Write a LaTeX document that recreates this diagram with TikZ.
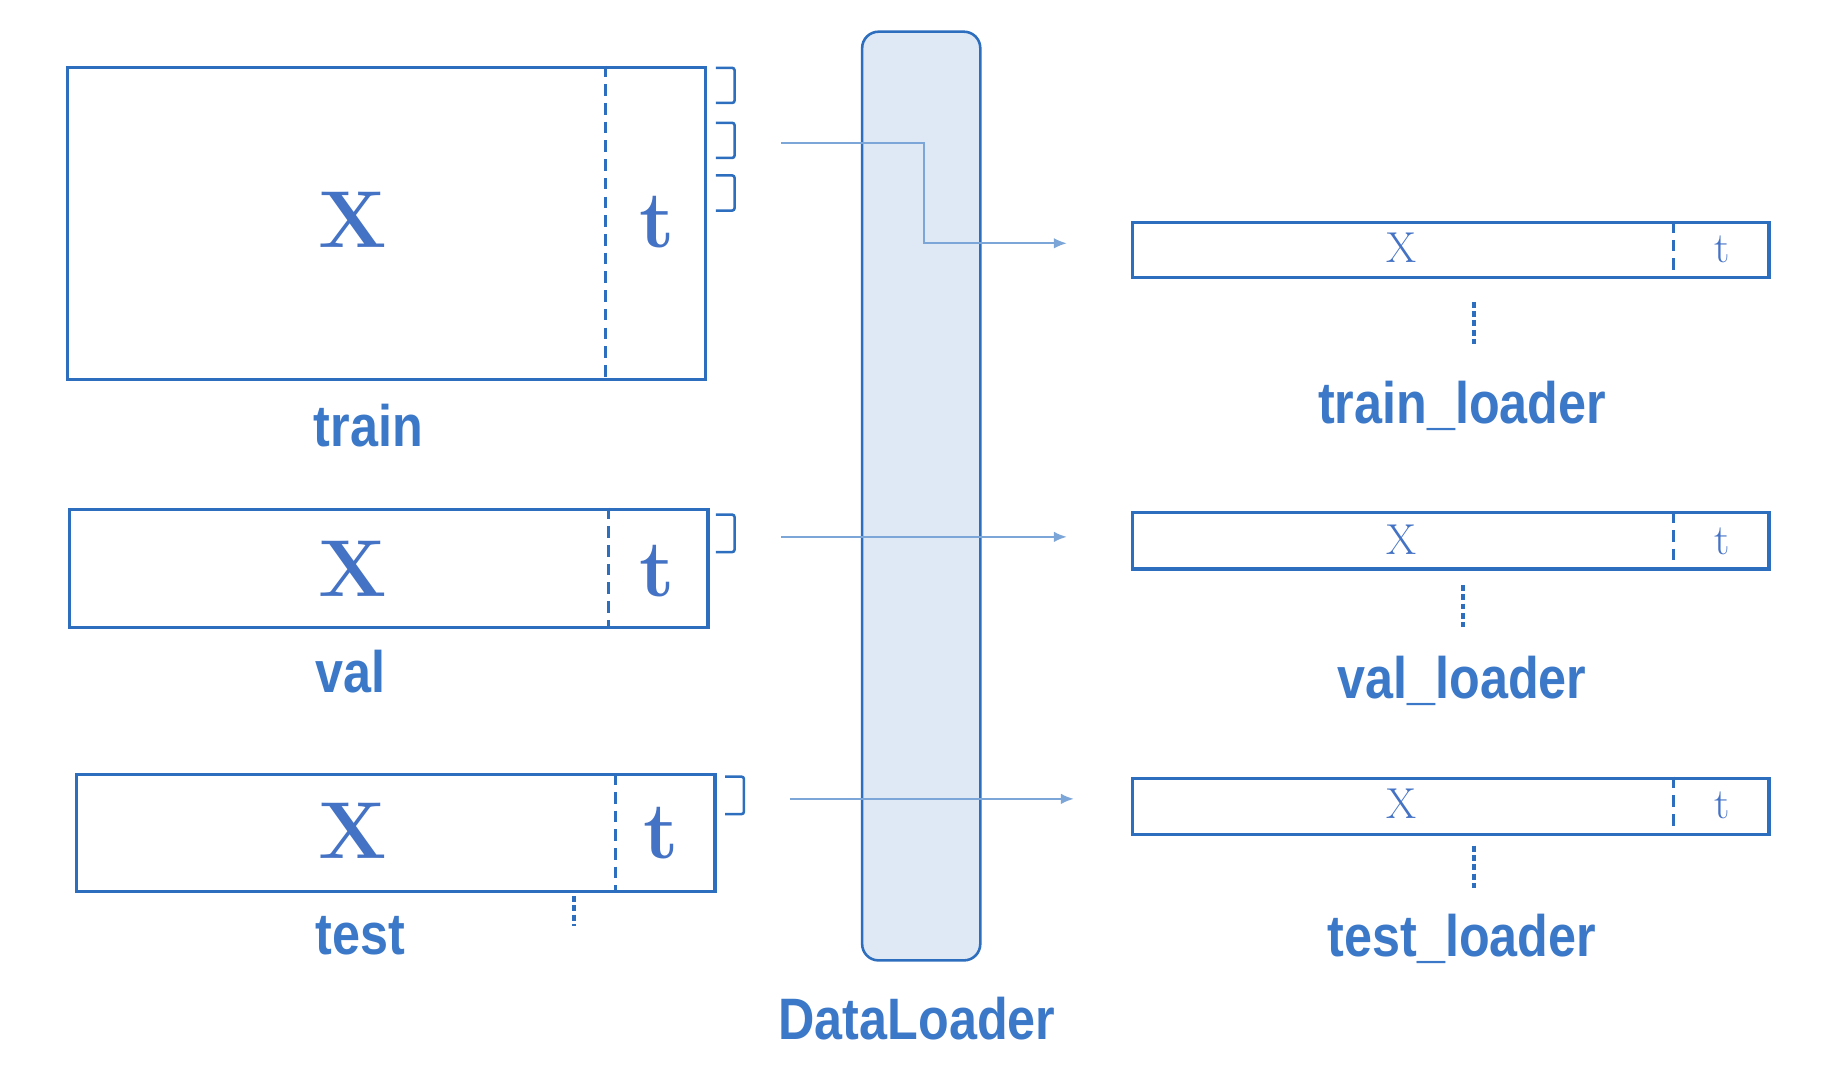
\documentclass[tikz,border=0pt]{standalone}
\usepackage{fontspec}
\usepackage{xcolor}
\usepackage{tikz}
\usetikzlibrary{arrows.meta,positioning}

\newfontfamily\labelfont{Liberation Sans}[FakeStretch=0.86]
\definecolor{lineblue}{HTML}{2E6EBF}
\definecolor{textblue}{HTML}{3C78C8}
\definecolor{letterblue}{HTML}{4472C4}
\definecolor{loaderfill}{HTML}{DFE9F6}
\definecolor{arrowblue}{HTML}{7DA6D8}

\begin{document}
\begin{tikzpicture}[
    x=1pt, y=-1pt,
    box/.style={draw=lineblue, line width=2.8pt, anchor=north west, inner sep=0pt},
    loader/.style={draw=lineblue, fill=loaderfill, line width=2.2pt, rounded corners=14pt,
    anchor=north west, inner sep=0pt, minimum width=101pt, minimum height=794pt},
    divider/.style={draw=lineblue, line width=2.4pt, dash pattern=on 10pt off 6pt},
    bigletter/.style={text=letterblue, anchor=base, inner sep=0pt,
    font=\fontsize{69}{80}\selectfont\bfseries},
    smallletter/.style={text=letterblue, anchor=base, inner sep=0pt,
    font=\fontsize{37}{42}\selectfont},
    label/.style={text=textblue, anchor=base, inner sep=0pt,
    font=\labelfont\bfseries\fontsize{50}{60}\selectfont},
    brk/.style={draw=lineblue, line width=2.2pt, rounded corners=2pt},
    dots/.style={draw=lineblue, line width=3.5pt, dash pattern=on 5pt off 3pt},
    arr/.style={-{Latex[length=11pt,width=9pt]}, draw=arrowblue, line width=1.4pt}
]
\useasboundingbox (0,0) rectangle (1568,932);

% DataLoader
\node[loader] (dl) at (736,26) {};
\node[label] (dltext) at (784,889) {DataLoader};

% left data sets
\node[box, minimum width=546pt, minimum height=267pt] (train) at (56,56) {};
\draw[divider] (518,56) -- (518,323);
\node[bigletter] (trainX) at (302,212) {X};
\node[bigletter] (traint) at (562,212) {t};
\node[label] (traintext) at (315,382) {train};

\node[box, minimum width=546pt, minimum height=101pt] (val) at (58,434) {};
\draw[divider] (520,434) -- (520,535);
\node[bigletter] (valX) at (302,510) {X};
\node[bigletter] (valt) at (562,510) {t};
\node[label] (valtext) at (300,592) {val};

\node[box, minimum width=546pt, minimum height=100pt] (test) at (64,661) {};
\draw[divider] (526,661) -- (526,761);
\node[bigletter] (testX) at (302,734) {X};
\node[bigletter] (testt) at (565,734) {t};
\node[label] (testtext) at (308,816) {test};
\draw[dots] (491,766) -- (491,792);

% batch brackets
\draw[brk] (612,58) -- (628,58) -- (628,88) -- (612,88);
\draw[brk] (612,105) -- (628,105) -- (628,135) -- (612,135);
\draw[brk] (612,150) -- (628,150) -- (628,180) -- (612,180);
\draw[brk] (612,440) -- (628,440) -- (628,472) -- (612,472);
\draw[brk] (620,664) -- (636,664) -- (636,696) -- (620,696);

% loaders
\node[box, minimum width=544pt, minimum height=47pt] (trainl) at (967,189) {};
\draw[divider] (1431,189) -- (1431,236);
\node[smallletter] (trainlX) at (1198,224) {X};
\node[smallletter] (trainlt) at (1472,224) {t};
\draw[dots] (1260,258) -- (1260,294);
\node[label] (trainltext) at (1250,362) {train\_loader};

\node[box, minimum width=544pt, minimum height=48pt] (vall) at (967,437) {};
\draw[divider] (1431,437) -- (1431,485);
\node[smallletter] (vallX) at (1198,474) {X};
\node[smallletter] (vallt) at (1472,474) {t};
\draw[dots] (1251,500) -- (1251,536);
\node[label] (valltext) at (1250,597) {val\_loader};

\node[box, minimum width=544pt, minimum height=48pt] (testl) at (967,664) {};
\draw[divider] (1431,664) -- (1431,712);
\node[smallletter] (testlX) at (1198,700) {X};
\node[smallletter] (testlt) at (1472,700) {t};
\draw[dots] (1260,723) -- (1260,759);
\node[label] (testltext) at (1250,818) {test\_loader};

% arrows
\coordinate (s1) at (668,122);
\coordinate (k1) at (790,208);
\coordinate (e1) at (912,208);
\coordinate (s2) at (668,459);
\coordinate (e2) at (912,459);
\coordinate (s3) at (675,683);
\coordinate (e3) at (918,683);
\draw[arr] (s1) -| (k1) -- (e1);
\draw[arr] (s2) -- (e2);
\draw[arr] (s3) -- (e3);
\end{tikzpicture}
\end{document}
